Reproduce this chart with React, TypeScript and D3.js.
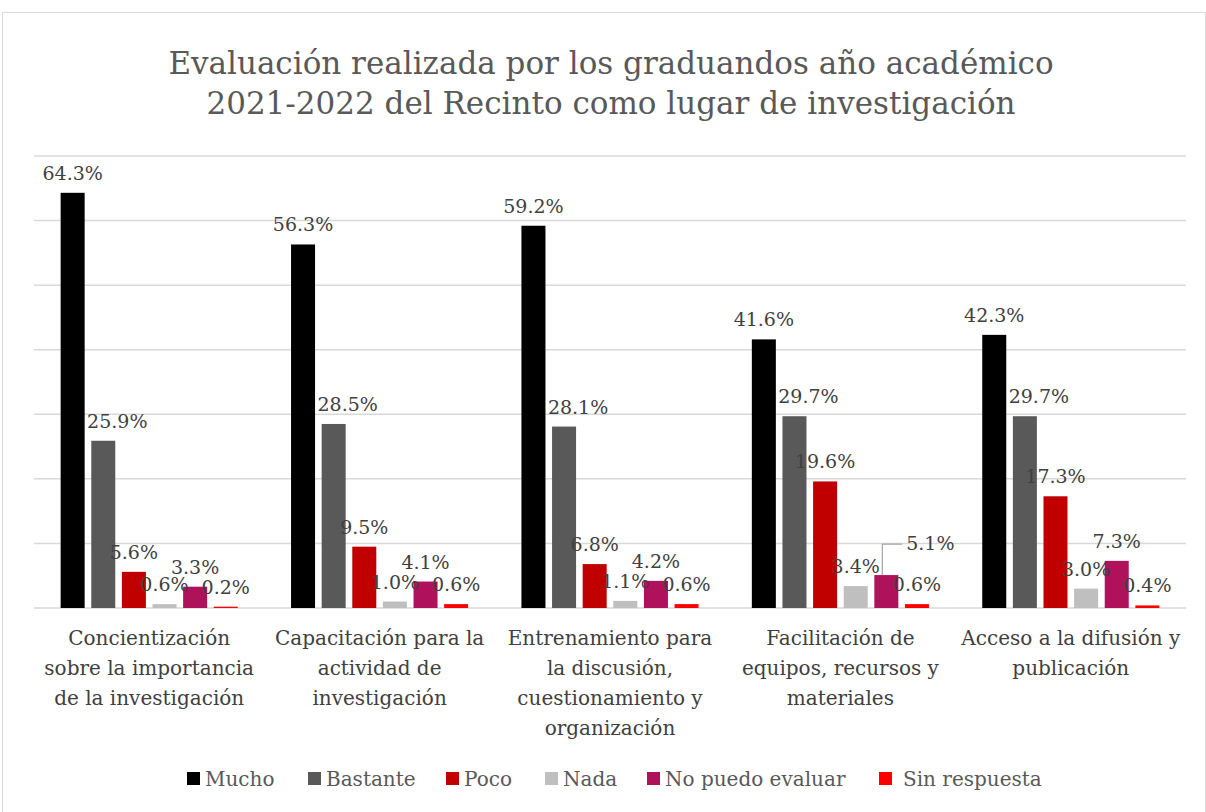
import * as d3 from 'd3';
import { useEffect, useRef } from 'react';

const categories = [
  ['Concientización', 'sobre la importancia', 'de la investigación'],
  ['Capacitación para la', 'actividad de', 'investigación'],
  ['Entrenamiento para', 'la discusión,', 'cuestionamiento y', 'organización'],
  ['Facilitación de', 'equipos, recursos y', 'materiales'],
  ['Acceso a la difusión y', 'publicación'],
];
const seriesNames = ['Mucho', 'Bastante', 'Poco', 'Nada', 'No puedo evaluar', 'Sin respuesta'];
const colors = ['#000000', '#595959', '#C00000', '#BFBFBF', '#B0115B', '#FF0000'];
const mucho = [64.3, 56.3, 59.2, 41.6, 42.3];
const bastante = [25.9, 28.5, 28.1, 29.7, 29.7];
const poco = [5.6, 9.5, 6.8, 19.6, 17.3];
const nada = [0.6, 1.0, 1.1, 3.4, 3.0];
const noPuedo = [3.3, 4.1, 4.2, 5.1, 7.3];
const sinResp = [0.2, 0.6, 0.6, 0.6, 0.4];
const yTicks = [0, 10, 20, 30, 40, 50, 60, 70];

const W = 1206, H = 812;
const FONT = '"DejaVu Serif", "Liberation Serif", serif';

export default function App() {
  const svgRef = useRef<SVGSVGElement>(null);

  useEffect(() => {
    document.body.style.margin = '0';
    const svg = d3.select(svgRef.current);
    svg.selectAll('*').remove();

    const values = [mucho, bastante, poco, nada, noPuedo, sinResp];
    const margin = { top: 156, right: 20, bottom: 204, left: 34 };

    svg.append('rect')
      .attr('x', 2.5).attr('y', 12.5)
      .attr('width', W - 3).attr('height', H)
      .attr('fill', '#fff').attr('stroke', '#d9d9d9');

    const x0 = d3.scaleBand()
      .domain(d3.range(categories.length).map(String))
      .range([margin.left, W - margin.right]);
    const x1 = d3.scaleBand()
      .domain(d3.range(seriesNames.length).map(String))
      .range([0, x0.bandwidth()])
      .paddingInner(0.216)
      .paddingOuter(0.87);
    const y = d3.scaleLinear().domain([0, 70]).range([H - margin.bottom, margin.top]);

    svg.append('g')
      .selectAll('line')
      .data(yTicks)
      .join('line')
      .attr('x1', margin.left).attr('x2', W - margin.right)
      .attr('y1', d => y(d)).attr('y2', d => y(d))
      .attr('stroke', '#d9d9d9').attr('stroke-width', 1.5);

    svg.append('text')
      .attr('text-anchor', 'middle')
      .attr('font-family', FONT).attr('font-size', 31).attr('fill', '#595959')
      .selectAll('tspan')
      .data(['Evaluación realizada por los graduandos año académico', '2021-2022 del Recinto como lugar de investigación'])
      .join('tspan')
      .attr('x', W / 2 + 8)
      .attr('y', (d, i) => 74 + i * 40)
      .text(d => d);

    const bx = (i: number, s: number) => x0(String(i))! + x1(String(s))!;

    values.forEach((vals, s) => {
      const g = svg.append('g');
      g.selectAll('rect')
        .data(vals)
        .join('rect')
        .attr('x', (d, i) => bx(i, s))
        .attr('y', d => y(d))
        .attr('width', x1.bandwidth())
        .attr('height', d => y(0) - y(d))
        .attr('fill', colors[s]);
    });

    // data labels (the 5.1% one sits on a leader line like in the original)
    values.forEach((vals, s) => {
      const g = svg.append('g')
        .attr('font-family', FONT).attr('font-size', 19).attr('fill', '#404040')
        .attr('text-anchor', 'middle');
      vals.forEach((v, i) => {
        const cx = bx(i, s) + x1.bandwidth() / 2;
        if (s === 4 && i === 3) {
          const ly = y(v) - 31;
          svg.append('polyline')
            .attr('points', `${cx - 4},${y(v)} ${cx - 4},${ly} ${cx + 16},${ly}`)
            .attr('fill', 'none').attr('stroke', '#a6a6a6').attr('stroke-width', 1.2);
          g.append('text').attr('x', cx + 44).attr('y', ly + 6).text(v.toFixed(1) + '%');
          return;
        }
        g.append('text').attr('x', cx + (s === 1 ? 14 : 0)).attr('y', y(v) - 13)
          .text(v.toFixed(1) + '%');
      });
    });

    const cat = svg.append('g');
    categories.forEach((lines, i) => {
      cat.append('text')
        .attr('text-anchor', 'middle')
        .attr('font-family', FONT).attr('font-size', 20).attr('fill', '#404040')
        .selectAll('tspan')
        .data(lines)
        .join('tspan')
        .attr('x', x0(String(i))! + x0.bandwidth() / 2)
        .attr('y', (d, j) => 645 + j * 30)
        .text(d => d);
    });

    const legendX = [187, 308, 446, 545, 647, 879];
    const leg = svg.append('g');
    seriesNames.forEach((name, i) => {
      leg.append('rect')
        .attr('x', legendX[i]).attr('y', 772)
        .attr('width', 13).attr('height', 13)
        .attr('fill', colors[i]);
      leg.append('text')
        .attr('x', legendX[i] + (i === 5 ? 24 : 18)).attr('y', 786)
        .attr('font-family', FONT).attr('font-size', 20).attr('fill', '#595959')
        .text(name);
    });
  }, []);

  return <svg ref={svgRef} width={W} height={H} style={{ display: 'block' }} />;
}
